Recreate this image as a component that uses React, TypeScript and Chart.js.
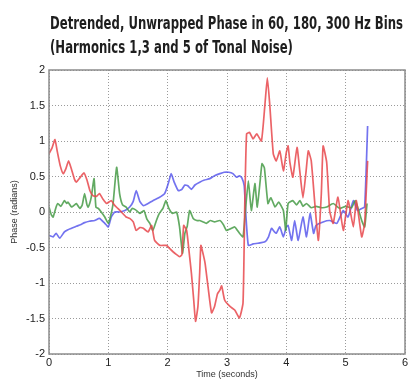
import React, { useEffect, useRef } from "react";
import { Chart, registerables } from "chart.js";

Chart.register(...registerables);

const titleLines = [
  "Detrended, Unwrapped Phase in 60, 180, 300 Hz Bins",
  "(Harmonics 1,3 and 5 of Tonal Noise)",
];
const xAxisTitle = "Time (seconds)";
const yAxisTitle = "Phase (radians)";

const xTicks = [0, 1, 2, 3, 4, 5, 6];
const yTicks = [-2, -1.5, -1, -0.5, 0, 0.5, 1, 1.5, 2];

const redX = [0.0, 0.05, 0.1, 0.14, 0.19, 0.24, 0.28, 0.33, 0.38, 0.43, 0.46, 0.52, 0.59, 0.64, 0.69, 0.74, 0.8, 0.85, 0.91, 0.97, 1.05, 1.1, 1.16, 1.22, 1.3, 1.36, 1.42, 1.47, 1.53, 1.59, 1.67, 1.73, 1.78, 1.87, 1.98, 2.04, 2.09, 2.15, 2.2, 2.24, 2.27, 2.32, 2.36, 2.4, 2.44, 2.47, 2.51, 2.54, 2.56, 2.6, 2.63, 2.68, 2.74, 2.79, 2.84, 2.88, 2.91, 2.96, 3.05, 3.13, 3.21, 3.27, 3.3, 3.33, 3.38, 3.44, 3.5, 3.58, 3.64, 3.68, 3.72, 3.78, 3.83, 3.89, 3.95, 4.0, 4.03, 4.06, 4.11, 4.18, 4.23, 4.28, 4.33, 4.37, 4.42, 4.48, 4.54, 4.59, 4.62, 4.68, 4.73, 4.79, 4.87, 4.96, 5.04, 5.13, 5.18, 5.27, 5.32, 5.37];
const redY = [0.82, 0.9, 1.02, 0.85, 0.65, 0.54, 0.6, 0.72, 0.6, 0.46, 0.42, 0.48, 0.55, 0.45, 0.3, 0.23, 0.22, 0.26, 0.18, 0.12, 0.16, 0.1, 0.05, 0.0, -0.07, -0.09, -0.14, -0.26, -0.22, -0.23, -0.28, -0.19, -0.4, -0.47, -0.47, -0.52, -0.56, -0.6, -0.63, -0.6, -0.19, -0.26, -0.55, -0.86, -1.25, -1.54, -1.33, -0.85, -0.47, -0.6, -0.72, -1.05, -1.42, -1.33, -1.15, -1.1, -1.04, -1.24, -1.33, -1.38, -1.49, -1.28, 0.12, 1.1, 1.12, 1.03, 1.1, 1.0, 1.52, 1.89, 1.52, 0.82, 0.72, 0.86, 0.58, 0.84, 0.93, 0.7, 0.49, 0.91, 0.55, 0.2, 0.55, 0.86, 0.72, 0.12, -0.4, 0.26, 0.93, 0.7, 0.02, -0.16, 0.21, -0.26, 0.16, -0.21, 0.16, -0.35, -0.16, 0.72];

const greenX = [0.0, 0.04, 0.07, 0.12, 0.15, 0.2, 0.26, 0.3, 0.32, 0.38, 0.43, 0.46, 0.52, 0.56, 0.6, 0.64, 0.66, 0.71, 0.76, 0.79, 0.83, 0.88, 0.94, 1.0, 1.04, 1.08, 1.14, 1.19, 1.24, 1.3, 1.36, 1.4, 1.46, 1.53, 1.6, 1.65, 1.7, 1.75, 1.81, 1.86, 1.92, 1.97, 2.02, 2.08, 2.15, 2.2, 2.25, 2.29, 2.33, 2.37, 2.43, 2.49, 2.54, 2.6, 2.65, 2.72, 2.79, 2.88, 2.94, 2.99, 3.05, 3.13, 3.21, 3.27, 3.31, 3.36, 3.41, 3.47, 3.51, 3.56, 3.59, 3.63, 3.69, 3.74, 3.81, 3.87, 3.95, 3.99, 4.03, 4.11, 4.17, 4.23, 4.28, 4.34, 4.42, 4.5, 4.6, 4.68, 4.79, 4.9, 5.0, 5.1, 5.16, 5.22, 5.27, 5.32, 5.36];
const greenY = [0.07, -0.04, -0.07, 0.07, 0.12, 0.08, 0.16, 0.12, 0.14, 0.07, 0.1, 0.12, 0.05, 0.1, 0.26, 0.1, 0.07, 0.2, 0.47, 0.07, 0.05, 0.0, -0.07, -0.16, -0.05, 0.12, 0.63, 0.26, 0.1, 0.07, 0.0, 0.05, 0.03, -0.02, 0.02, -0.1, -0.16, -0.26, -0.12, -0.02, 0.05, 0.16, 0.05, -0.02, 0.0, -0.21, -0.58, -0.3, -0.2, 0.02, -0.09, -0.12, -0.12, -0.14, -0.16, -0.12, -0.14, -0.12, -0.18, -0.26, -0.24, -0.21, -0.3, -0.35, 0.02, 0.44, 0.02, 0.4, 0.07, 0.45, 0.68, 0.62, 0.12, 0.2, 0.07, 0.14, 0.02, -0.26, 0.12, 0.16, 0.1, 0.16, 0.08, 0.12, 0.06, 0.08, 0.06, 0.07, 0.12, 0.05, 0.08, 0.06, 0.16, 0.02, -0.12, -0.21, 0.12];

const blueX = [0.0, 0.07, 0.12, 0.18, 0.26, 0.32, 0.38, 0.46, 0.53, 0.6, 0.68, 0.77, 0.85, 0.94, 1.0, 1.05, 1.11, 1.19, 1.28, 1.36, 1.42, 1.47, 1.53, 1.59, 1.67, 1.75, 1.85, 1.95, 2.01, 2.06, 2.11, 2.18, 2.24, 2.29, 2.34, 2.4, 2.46, 2.54, 2.62, 2.71, 2.79, 2.88, 2.95, 3.03, 3.1, 3.16, 3.21, 3.25, 3.29, 3.32, 3.36, 3.44, 3.52, 3.64, 3.7, 3.75, 3.8, 3.83, 3.89, 3.95, 4.0, 4.03, 4.09, 4.14, 4.2, 4.28, 4.34, 4.4, 4.46, 4.5, 4.62, 4.73, 4.85, 4.96, 5.04, 5.13, 5.2, 5.27, 5.32, 5.37];
const blueY = [-0.33, -0.35, -0.3, -0.37, -0.28, -0.25, -0.23, -0.2, -0.18, -0.15, -0.13, -0.12, -0.09, -0.16, -0.21, -0.07, 0.0, 0.0, 0.02, 0.07, 0.15, 0.3, 0.15, 0.09, 0.12, 0.16, 0.2, 0.26, 0.4, 0.54, 0.42, 0.3, 0.32, 0.38, 0.37, 0.32, 0.38, 0.42, 0.45, 0.47, 0.51, 0.54, 0.56, 0.56, 0.54, 0.49, 0.51, 0.48, 0.37, -0.07, -0.47, -0.45, -0.44, -0.42, -0.35, -0.23, -0.28, -0.3, -0.21, -0.35, -0.21, -0.19, -0.4, -0.12, -0.4, -0.07, -0.35, -0.02, -0.3, -0.19, -0.14, -0.12, -0.16, 0.02, -0.07, 0.16, 0.02, 0.05, 0.07, 1.21];

const toPoints = (xs: number[], ys: number[]) => xs.map((x, i) => ({ x, y: ys[i] }));

const decorPlugin = {
  id: "decor",
  afterDraw(chart: any) {
    const ctx = chart.ctx as CanvasRenderingContext2D;
    const a = chart.chartArea;
    ctx.save();
    // frame
    ctx.strokeStyle = "#8c8c8c";
    ctx.lineWidth = 1.5;
    ctx.strokeRect(a.left, a.top, a.right - a.left, a.bottom - a.top);
    // title
    ctx.fillStyle = "#1e1e1e";
    ctx.font = 'bold 17px "DejaVu Sans"';
    ctx.textBaseline = "alphabetic";
    ctx.textAlign = "left";
    const w = ctx.measureText(titleLines[0]).width;
    const s = (403 - 50) / w;
    const baselines = [29, 53];
    titleLines.forEach((t, i) => {
      ctx.save();
      ctx.translate(50, baselines[i]);
      ctx.scale(s, 1);
      ctx.fillText(t, 0, 0);
      ctx.restore();
    });
    // axis titles
    ctx.fillStyle = "#333";
    ctx.font = '9px "Liberation Sans"';
    ctx.textAlign = "center";
    ctx.textBaseline = "middle";
    ctx.fillText(xAxisTitle, (a.left + a.right) / 2, 375);
    ctx.save();
    ctx.translate(15, (a.top + a.bottom) / 2);
    ctx.rotate(-Math.PI / 2);
    ctx.fillText(yAxisTitle, 0, 0);
    ctx.restore();
    ctx.restore();
  },
};

export default function App() {
  const ref = useRef<HTMLCanvasElement | null>(null);
  useEffect(() => {
    document.body.style.margin = "0";
    const canvas = ref.current!;
    const line = (label: string, pts: any, color: string) => ({
      label,
      data: pts,
      showLine: true,
      borderColor: color,
      backgroundColor: color,
      borderWidth: 1.7,
      pointRadius: 0,
      tension: 0.15,
    });
    const chart = new Chart(canvas, {
      type: "scatter",
      data: {
        datasets: [
          line("60 Hz", toPoints(redX, redY), "rgba(232,72,76,0.85)"),
          line("180 Hz", toPoints(greenX, greenY), "rgba(70,155,70,0.85)"),
          line("300 Hz", toPoints(blueX, blueY), "rgba(80,80,235,0.8)"),
        ],
      },
      options: {
        responsive: false,
        animation: false,
        events: [],
        layout: { padding: { top: 70, left: 0, right: 3, bottom: 0 } },
        plugins: { legend: { display: false }, tooltip: { enabled: false }, title: { display: false } },
        scales: {
          x: {
            type: "linear",
            min: 0,
            max: 6,
            afterBuildTicks: (s: any) => { s.ticks = xTicks.map((v) => ({ value: v })); },
            afterFit: (s: any) => { s.height = 29; s.paddingLeft = 0; s.paddingRight = 0; },
            ticks: { color: "#222", font: { family: "Liberation Sans", size: 11 }, padding: 2, maxRotation: 0, callback: (v: any) => String(v) },
            grid: { color: "#9a9a9a", lineWidth: 1, drawTicks: false },
            border: { display: false, dash: [1, 2] },
          },
          y: {
            type: "linear",
            min: -2,
            max: 2,
            afterBuildTicks: (s: any) => { s.ticks = yTicks.map((v) => ({ value: v })); },
            afterFit: (s: any) => { s.width = 49; s.paddingTop = 0; s.paddingBottom = 0; },
            ticks: { color: "#222", font: { family: "Liberation Sans", size: 11 }, padding: 4, callback: (v: any) => String(v) },
            grid: { color: "#9a9a9a", lineWidth: 1, drawTicks: false },
            border: { display: false, dash: [1, 2] },
          },
        },
      },
      plugins: [decorPlugin],
    } as any);
    return () => chart.destroy();
  }, []);
  return <canvas ref={ref} width={408} height={383} style={{ display: "block" }} />;
}
